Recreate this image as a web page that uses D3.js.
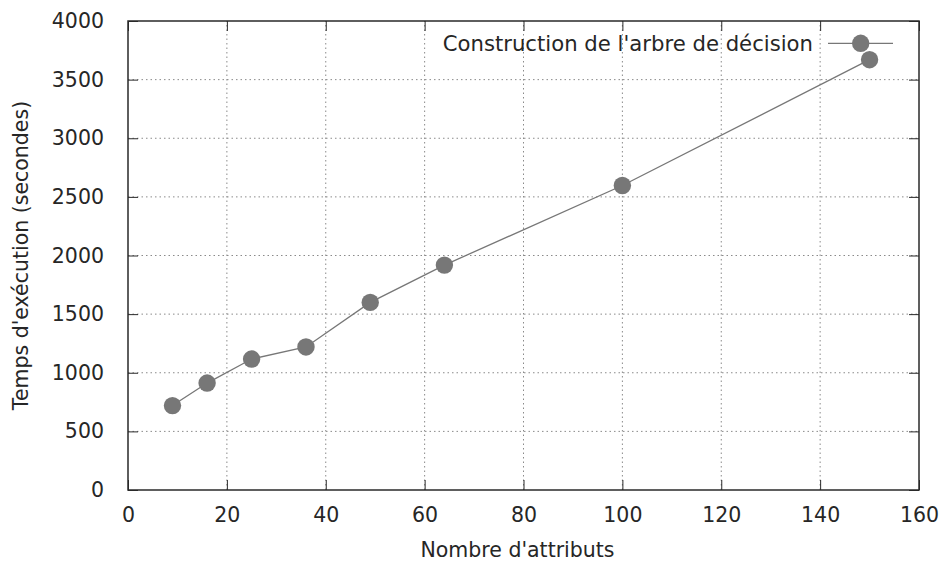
<!DOCTYPE html>
<html>
<head>
<meta charset="utf-8">
<script src="https://cdn.jsdelivr.net/npm/d3@7"></script>
<style>
  html, body { margin: 0; padding: 0; background: #fff; }
  text { font-family: "DejaVu Sans", sans-serif; fill: #262626; }
</style>
</head>
<body>
<svg id="chart" width="947" height="564"></svg>
<script>
const attributes = [9, 16, 25, 36, 49, 64, 100, 150];
const times = [720, 912, 1117, 1220, 1600, 1918, 2597, 3670];
const xTicks = [0, 20, 40, 60, 80, 100, 120, 140, 160];
const yTicks = [0, 500, 1000, 1500, 2000, 2500, 3000, 3500, 4000];
const seriesName = "Construction de l'arbre de décision";
const xTitle = "Nombre d'attributs";
const yTitle = "Temps d'exécution (secondes)";

const W = 947, H = 564;
const m = { left: 128, right: 28, top: 21, bottom: 74 };
const fs = 20.5;
const svg = d3.select("#chart");
const x = d3.scaleLinear().domain([0, 160]).range([m.left, W - m.right]);
const y = d3.scaleLinear().domain([0, 4000]).range([H - m.bottom, m.top]);
const col = "#777777";
const gridCol = "#8a8a8a";
const axisCol = "#2a2a2a";

// grid
const g = svg.append("g");
g.selectAll(".gx").data(xTicks.slice(1, -1)).join("line")
  .attr("x1", d => x(d)).attr("x2", d => x(d))
  .attr("y1", y(0)).attr("y2", y(4000))
  .attr("stroke", gridCol).attr("stroke-width", 1).attr("stroke-dasharray", "1.5,3");
g.selectAll(".gy").data(yTicks.slice(1, -1)).join("line")
  .attr("x1", x(0)).attr("x2", x(160))
  .attr("y1", d => y(d)).attr("y2", d => y(d))
  .attr("stroke", gridCol).attr("stroke-width", 1).attr("stroke-dasharray", "1.5,3");

// axes (ticks inward, mirrored)
const tl = 10;
const axB = d3.axisBottom(x).tickValues(xTicks).tickSize(-tl).tickPadding(tl + 7).tickFormat(d3.format("d"));
const axT = d3.axisTop(x).tickValues(xTicks).tickSize(-tl).tickFormat("");
const axL = d3.axisLeft(y).tickValues(yTicks).tickSize(-tl).tickPadding(tl + 14).tickFormat(d3.format("d"));
const axR = d3.axisRight(y).tickValues(yTicks).tickSize(-tl).tickFormat("");
function style(sel) {
  sel.select(".domain").remove();
  sel.selectAll("line").attr("stroke", axisCol).attr("stroke-width", 1);
  sel.selectAll("text").attr("font-size", fs).attr("font-family", "DejaVu Sans").attr("fill", "#262626");
}
svg.append("g").attr("transform", `translate(0,${y(0)})`).call(axB).call(style);
svg.append("g").attr("transform", `translate(0,${y(4000)})`).call(axT).call(style);
svg.append("g").attr("transform", `translate(${x(0)},0)`).call(axL).call(style);
svg.append("g").attr("transform", `translate(${x(160)},0)`).call(axR).call(style);

svg.append("rect")
  .attr("x", x(0)).attr("y", y(4000))
  .attr("width", x(160) - x(0)).attr("height", y(0) - y(4000))
  .attr("fill", "none").attr("stroke", axisCol).attr("stroke-width", 1.5);

// series
const data = attributes.map((a, i) => ({ a, t: times[i] }));
svg.append("path").datum(data)
  .attr("fill", "none").attr("stroke", col).attr("stroke-width", 1.3)
  .attr("d", d3.line().x(d => x(d.a)).y(d => y(d.t)));
svg.selectAll(".pt").data(data).join("circle")
  .attr("cx", d => x(d.a)).attr("cy", d => y(d.t)).attr("r", 8.7)
  .attr("fill", col);

// legend
const ly = 43.3;
svg.append("line").attr("x1", 828).attr("x2", 893).attr("y1", ly).attr("y2", ly)
  .attr("stroke", col).attr("stroke-width", 1.3);
svg.append("circle").attr("cx", 860.7).attr("cy", ly).attr("r", 8.7).attr("fill", col);
svg.append("text").attr("x", 813).attr("y", 51).attr("text-anchor", "end")
  .attr("font-size", 21.2).text(seriesName);

// titles
svg.append("text").attr("x", (x(0) + x(160)) / 2 - 6).attr("y", 557)
  .attr("text-anchor", "middle").attr("font-size", fs).text(xTitle);
svg.append("text").attr("transform", `translate(28,${(y(0) + y(4000)) / 2}) rotate(-90)`)
  .attr("text-anchor", "middle").attr("font-size", fs).text(yTitle);
</script>
</body>
</html>
